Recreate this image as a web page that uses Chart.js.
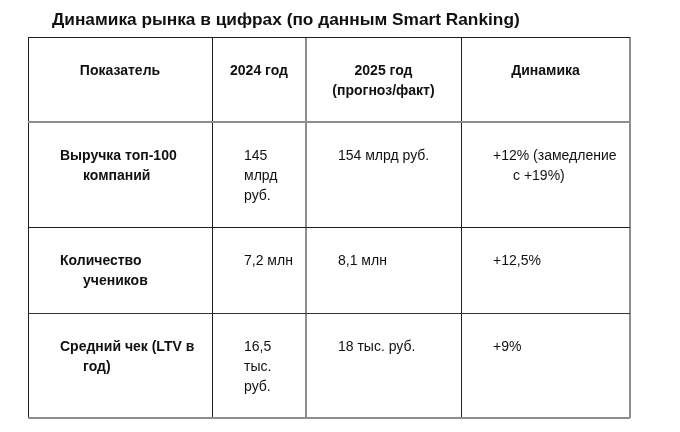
<!DOCTYPE html>
<html>
<head>
<meta charset="utf-8">
<script src="https://cdn.jsdelivr.net/npm/chart.js@4/dist/chart.umd.min.js"></script>
<style>
  body { margin: 0; background: #fff; }
  canvas { display: block; }
</style>
</head>
<body>
<canvas id="table" width="680" height="432"></canvas>
<script>
const titleText = 'Динамика рынка в цифрах (по данным Smart Ranking)';

// header row, one array of lines per column
const headers = [['Показатель'], ['2024 год'], ['2025 год', '(прогноз/факт)'], ['Динамика']];

// body columns, one entry per row
const indicators = [['Выручка топ-100', 'компаний'], ['Количество', 'учеников'], ['Средний чек (LTV в', 'год)']];
const values2024 = [['145', 'млрд', 'руб.'], ['7,2 млн'], ['16,5', 'тыс.', 'руб.']];
const values2025 = [['154 млрд руб.'], ['8,1 млн'], ['18 тыс. руб.']];
const dynamics = [['+12% (замедление', 'с +19%)'], ['+12,5%'], ['+9%']];

// table geometry (px inside the chart area)
const colEdges = [0, 184, 278, 433, 602];
const rowEdges = [0, 85, 190, 276, 381];
const hangIndent = [23, 0, 0, 20];

const FONT = '"Liberation Sans", Arial, sans-serif';
const DARK = '#1e1e1e';
const GRAY = '#8e8e8e';
const xLine = [DARK, DARK, GRAY, DARK, GRAY];
const yLine = [DARK, GRAY, DARK, '#333', GRAY];

// one point per cell, top-left corner of the cell
const cells = [];
headers.forEach((lines, c) => cells.push({ x: colEdges[c], y: rowEdges[0], lines, col: c, header: true }));
const bodyCols = [indicators, values2024, values2025, dynamics];
bodyCols.forEach((col, c) => {
    col.forEach((lines, r) => cells.push({ x: colEdges[c], y: rowEdges[r + 1], lines, col: c, header: false }));
});

const cellText = {
    id: 'cellText',
    afterDatasetsDraw(chart) {
        const ctx = chart.ctx;
        const xs = chart.scales.x;
        const meta = chart.getDatasetMeta(0);
        const data = chart.data.datasets[0].data;
        ctx.save();
        ctx.fillStyle = '#111';
        ctx.textBaseline = 'alphabetic';

        // title
        ctx.font = 'bold 17.3px ' + FONT;
        ctx.textAlign = 'left';
        ctx.fillText(titleText, 52, 25);

        meta.data.forEach((el, i) => {
            const cell = data[i];
            if (cell.header) {
                const cx = (xs.getPixelForValue(colEdges[cell.col]) + xs.getPixelForValue(colEdges[cell.col + 1])) / 2;
                ctx.font = 'bold 14px ' + FONT;
                ctx.textAlign = 'center';
                cell.lines.forEach((t, k) => ctx.fillText(t, cx, el.y + 38 + k * 20));
            } else {
                ctx.font = (cell.col === 0 ? 'bold ' : '') + '14px ' + FONT;
                ctx.textAlign = 'left';
                cell.lines.forEach((t, k) => {
                    const ind = k > 0 ? hangIndent[cell.col] : 0;
                    ctx.fillText(t, el.x + 32 + ind, el.y + 38 + k * 20);
                });
            }
        });
        ctx.restore();
    }
};

new Chart(document.getElementById('table'), {
    type: 'scatter',
    data: {
        datasets: [{
            data: cells,
            pointRadius: 0,
            pointHoverRadius: 0
        }]
    },
    options: {
        responsive: false,
        animation: false,
        devicePixelRatio: 1,
        layout: { padding: { left: 28, top: 37, right: 50, bottom: 14 } },
        plugins: {
            legend: { display: false },
            tooltip: { enabled: false }
        },
        scales: {
            x: {
                type: 'linear',
                min: 0,
                max: 602,
                afterBuildTicks: s => { s.ticks = colEdges.map(v => ({ value: v })); },
                ticks: { display: false },
                border: { display: false },
                grid: {
                    drawTicks: false,
                    color: c => xLine[c.index],
                    lineWidth: c => xLine[c.index] === GRAY ? 2 : 1
                }
            },
            y: {
                type: 'linear',
                reverse: true,
                min: 0,
                max: 381,
                afterBuildTicks: s => { s.ticks = rowEdges.map(v => ({ value: v })); },
                ticks: { display: false },
                border: { display: false },
                grid: {
                    drawTicks: false,
                    color: c => yLine[c.index],
                    lineWidth: c => yLine[c.index] === GRAY ? 2 : 1
                }
            }
        }
    },
    plugins: [cellText]
});
</script>
</body>
</html>
